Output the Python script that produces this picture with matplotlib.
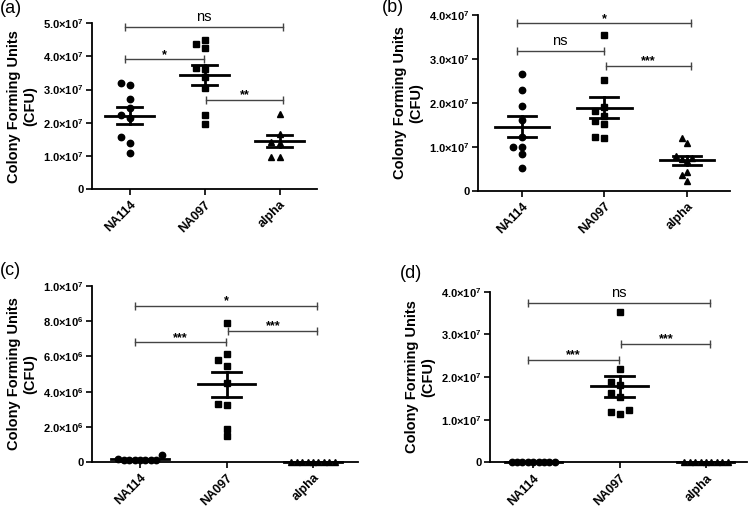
import numpy as np
import matplotlib
matplotlib.use('Agg')
import matplotlib.pyplot as plt

plt.rcParams['font.family'] = ['Liberation Sans', 'DejaVu Sans']
plt.rcParams['mathtext.fontset'] = 'custom'
plt.rcParams['mathtext.rm'] = 'Liberation Sans'
plt.rcParams['mathtext.bf'] = 'Liberation Sans:bold'

groups = ['NA114', 'NA097', 'alpha']

# panel (a), CFU x 1e7
a_na114 = [1.10, 1.40, 1.58, 2.13, 2.23, 2.43, 2.72, 3.15, 3.21]
a_na097 = [1.96, 2.23, 3.04, 3.37, 3.62, 3.64, 4.24, 4.37, 4.49]
a_alpha = [0.98, 0.98, 1.38, 1.43, 1.66, 2.25]

# panel (b), CFU x 1e7
b_na114 = [0.52, 0.83, 1.00, 1.00, 1.23, 1.61, 1.93, 2.29, 2.66]
b_na097 = [1.19, 1.23, 1.51, 1.59, 1.71, 1.82, 1.90, 2.52, 3.55]
b_alpha = [0.21, 0.36, 0.43, 0.68, 0.72, 0.74, 0.79, 1.09, 1.19]

# panel (c), CFU x 1e6
c_na114 = [0.12, 0.38, 0.15, 0.12, 0.12, 0.10, 0.12, 0.12, 0.10]
c_na097 = [1.46, 1.90, 3.23, 3.32, 4.50, 5.46, 5.77, 6.13, 7.87]
c_alpha = [0, 0, 0, 0, 0, 0, 0, 0, 0]

# panel (d), CFU x 1e7
d_na114 = [0, 0, 0, 0, 0, 0, 0, 0, 0]
d_na097 = [1.13, 1.17, 1.23, 1.52, 1.62, 1.81, 1.89, 2.18, 3.52]
d_alpha = [0, 0, 0, 0, 0, 0, 0, 0, 0]

# significance: (group i, group j, height, label)
a_sig = [(0, 2, 4.89, 'ns'), (0, 1, 3.91, '*'), (1, 2, 2.70, '**')]
b_sig = [(0, 2, 3.81, '*'), (0, 1, 3.19, 'ns'), (1, 2, 2.85, '***')]
c_sig = [(0, 2, 8.88, '*'), (0, 1, 6.80, '***'), (1, 2, 7.46, '***')]
d_sig = [(0, 2, 3.74, 'ns'), (1, 2, 2.77, '***'), (0, 1, 2.41, '***')]

W, H = 750, 509
fig = plt.figure(figsize=(7.5, 5.09), dpi=100)

markers = ['o', 's', '^']
msizes = [4.6, 4.2, 4.8]


def swarm(vals, ppx, ppy, diam=7.0):
    vals = np.asarray(vals, float)
    slots = np.zeros(len(vals))
    placed = []
    for i in np.argsort(vals, kind='stable'):
        y = vals[i] * ppy
        for k in [0, -1, 1, -2, 2, -3, 3, -4, 4, -5, 5]:
            if all(not (s == k and abs(y - yy) < diam) for s, yy in placed):
                break
        placed.append((k, y))
        slots[i] = k
    step = 9.0 if np.abs(slots).max() <= 1 else 5.4
    return slots * step / ppx


def fmt(v, scale):
    if v == 0:
        return '0'
    real = v * 10 ** scale
    k = int(np.floor(np.log10(real) + 1e-9))
    return r'$\mathbf{%.1f{\times}10^{%d}}$' % (real / 10 ** k, k)


def panel(box, xlim, ymax, ystep, scale, data, sig, letter, letter_xy):
    l, r, t, b = box
    ax = fig.add_axes([l / W, 1 - b / H, (r - l) / W, (b - t) / H])
    ax.set_xlim(*xlim)
    ax.set_ylim(0, ymax)
    ppx = (r - l) / (xlim[1] - xlim[0])
    ppy = (b - t) / ymax
    for i, vals in enumerate(data):
        vals = np.array(vals, float)
        off = swarm(vals, ppx, ppy)
        ax.plot(i + off, vals, ls='none', marker=markers[i], ms=msizes[i],
                color='black', clip_on=False, zorder=3)
        m = vals.mean()
        sem = vals.std(ddof=1) / np.sqrt(len(vals))
        ax.plot([i - 0.33, i + 0.33], [m, m], color='black', lw=2, zorder=4, clip_on=False)
        ax.plot([i - 0.17, i + 0.17], [m + sem, m + sem], color='black', lw=2, zorder=4)
        ax.plot([i - 0.17, i + 0.17], [m - sem, m - sem], color='black', lw=2, zorder=4)
        ax.plot([i, i], [m - sem, m + sem], color='black', lw=2, zorder=4)
    for g1, g2, y, lab in sig:
        x1 = g1 - 0.06 if g1 == 0 else g1 + 0.02
        x2 = g2 + 0.05 if g2 == 2 else g2 - 0.01
        ax.plot([x1, x2], [y, y], color='#444444', lw=1, clip_on=False)
        ax.plot([x1, x2], [y, y], ls='none', marker='|', ms=6, mew=1,
                color='#444444', clip_on=False)
        if lab == 'ns':
            ax.annotate(lab, xy=((x1 + x2) / 2, y), xytext=(0, 2), textcoords='offset points',
                        ha='center', va='bottom', fontsize=10.5, annotation_clip=False)
        else:
            ax.annotate(lab, xy=((x1 + x2) / 2, y), xytext=(0, -1), textcoords='offset points',
                        ha='center', va='bottom', fontsize=9, fontweight='bold',
                        annotation_clip=False)

    yt = np.arange(0, ymax + ystep / 2, ystep)
    ax.set_yticks(yt)
    ax.set_yticklabels([fmt(v, scale) for v in yt], fontsize=8, fontweight='bold')
    ax.set_xticks([0, 1, 2])
    ax.set_xticklabels(groups, rotation=45, ha='right', va='top', rotation_mode='anchor',
                       fontsize=9, fontweight='bold')
    ax.tick_params(axis='x', length=4, width=1.2, pad=3)
    ax.tick_params(axis='y', length=4, width=1.2, pad=2)
    ax.spines['top'].set_visible(False)
    ax.spines['right'].set_visible(False)
    ax.spines['left'].set_linewidth(1.3)
    ax.spines['bottom'].set_linewidth(1.3)
    ax.set_ylabel('Colony Forming Units\n(CFU)', fontsize=10.5, fontweight='bold', labelpad=4)
    fig.text(letter_xy[0] / W, 1 - letter_xy[1] / H, letter, fontsize=13, va='top', ha='left')
    return ax


panel((92, 317, 23.3, 189), (-0.5, 2.5), 5.0, 1.0, 7,
      [a_na114, a_na097, a_alpha], a_sig, '(a)', (0, 0))
panel((478, 730, 15, 190.7), (-0.53, 2.52), 4.0, 1.0, 7,
      [b_na114, b_na097, b_alpha], b_sig, '(b)', (382, -1))
panel((92, 358, 286, 462), (-0.555, 2.52), 10.0, 2.0, 6,
      [c_na114, c_na097, c_alpha], c_sig, '(c)', (0, 262))
panel((490, 747, 291.7, 462.3), (-0.5, 2.475), 4.0, 1.0, 7,
      [d_na114, d_na097, d_alpha], d_sig, '(d)', (400, 265))

fig.savefig('out.png', dpi=100)
